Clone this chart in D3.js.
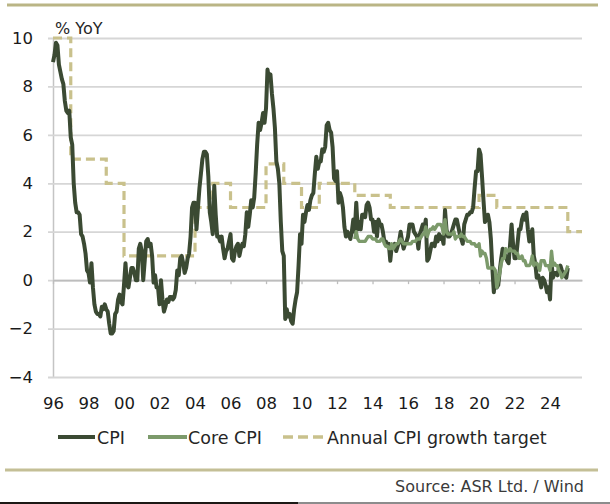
<!DOCTYPE html>
<html>
<head>
<meta charset="utf-8">
<script src="https://cdn.jsdelivr.net/npm/d3@7"></script>
<style>
  body { margin: 0; background: #fff; }
  svg { display: block; font-family: "DejaVu Sans", Verdana, sans-serif; }
</style>
</head>
<body>
<svg id="chart" width="610" height="504"></svg>
<script>
// monthly CPI % YoY, Jan 1996 .. Jan 2025
var cpi = [
  9.0, 9.3, 9.8, 9.7, 8.9, 8.6, 8.3, 8.1, 7.4, 7.0, 6.9, 7.0,
  5.9, 5.6, 4.0, 3.2, 2.8, 2.8, 2.7, 1.9, 1.8, 1.5, 1.1, 0.4,
  0.3, -0.1, 0.7, -0.3, -1.0, -1.3, -1.4, -1.4, -1.5, -1.1, -1.2, -1.0,
  -1.2, -1.3, -1.8, -2.2, -2.2, -2.1, -1.4, -1.3, -0.8, -0.6, -0.9, -1.0,
  -0.2, 0.7, -0.2, -0.3, 0.1, 0.5, 0.5, 0.3, 0.0, 0.0, 1.3, 1.5,
  1.2, 0.0, 0.8, 1.6, 1.7, 1.4, 1.5, 1.0, -0.1, 0.2, -0.3, -0.3,
  -1.0, 0.0, -0.8, -1.3, -1.1, -0.8, -0.9, -0.7, -0.7, -0.8, -0.7, -0.4,
  0.4, 0.2, 0.9, 1.0, 0.7, 0.3, 0.5, 0.9, 1.1, 1.8, 3.0, 3.2,
  3.2, 2.1, 3.0, 3.8, 4.4, 5.0, 5.3, 5.3, 5.2, 4.3, 2.8, 2.4,
  1.9, 3.9, 2.7, 1.8, 1.8, 1.6, 1.8, 1.3, 0.9, 1.2, 1.3, 1.6,
  1.9, 0.9, 0.8, 1.2, 1.4, 1.5, 1.0, 1.3, 1.5, 1.4, 1.9, 2.8,
  2.2, 2.7, 3.3, 3.0, 3.4, 4.4, 5.6, 6.5, 6.2, 6.5, 6.9, 6.5,
  7.1, 8.7, 8.3, 8.5, 7.7, 7.1, 6.3, 4.9, 4.6, 4.0, 2.4, 1.2,
  1.0, -1.6, -1.2, -1.5, -1.4, -1.7, -1.8, -1.2, -0.8, -0.5, 0.6, 1.9,
  1.5, 2.7, 2.4, 2.8, 3.1, 2.9, 3.3, 3.5, 3.6, 4.4, 5.1, 4.6,
  4.9, 4.9, 5.4, 5.3, 5.5, 6.4, 6.5, 6.2, 6.1, 5.5, 4.2, 4.1,
  4.5, 3.2, 3.6, 3.4, 3.0, 2.2, 1.8, 2.0, 1.9, 1.7, 2.0, 2.5,
  2.0, 3.2, 2.1, 2.4, 2.1, 2.7, 2.7, 2.6, 3.1, 3.2, 3.0, 2.5,
  2.5, 2.0, 2.4, 1.8, 2.5, 2.3, 2.3, 2.0, 1.6, 1.6, 1.4, 1.5,
  0.8, 1.4, 1.4, 1.5, 1.2, 1.4, 1.6, 2.0, 1.6, 1.3, 1.5, 1.6,
  1.8, 2.3, 2.3, 2.3, 2.0, 1.9, 1.8, 1.3, 1.9, 2.1, 2.3, 2.1,
  2.5, 0.8, 0.9, 1.2, 1.5, 1.5, 1.4, 1.8, 1.6, 1.9, 1.7, 1.8,
  1.5, 2.9, 2.1, 1.8, 1.8, 1.9, 2.1, 2.3, 2.5, 2.5, 2.2, 1.9,
  1.7, 1.5, 2.3, 2.5, 2.7, 2.7, 2.8, 2.8, 3.0, 3.8, 4.5, 4.5,
  5.4, 5.2, 4.3, 3.3, 2.4, 2.5, 2.7, 2.4, 1.7, 0.5, -0.5, 0.2,
  -0.3, -0.2, 0.4, 0.9, 1.3, 1.1, 1.0, 0.8, 0.7, 1.5, 2.3, 1.5,
  0.9, 0.9, 1.5, 2.1, 2.1, 2.5, 2.7, 2.5, 2.8, 2.1, 1.6, 1.8,
  2.1, 1.0, 0.7, 0.1, 0.2, 0.0, -0.3, 0.1, 0.0, -0.2, -0.5, -0.3,
  -0.8, 0.7, 0.1, 0.3, 0.3, 0.2, 0.5, 0.6, 0.4, 0.3, 0.2, 0.1,
  0.5
]

// monthly core CPI % YoY, Jan 2013 .. Jan 2025
var coreStart = 2013
var coreCpi = [
  1.7, 2.0, 1.7, 1.6, 1.6, 1.6, 1.6, 1.6, 1.7, 1.8, 1.8, 1.8,
  1.7, 1.7, 1.7, 1.6, 1.6, 1.6, 1.7, 1.7, 1.5, 1.4, 1.4, 1.3,
  1.3, 1.5, 1.3, 1.4, 1.5, 1.5, 1.6, 1.7, 1.6, 1.5, 1.5, 1.5,
  1.5, 1.5, 1.5, 1.6, 1.6, 1.6, 1.7, 1.7, 1.7, 1.8, 1.9, 1.9,
  2.2, 1.8, 2.0, 2.1, 2.1, 2.2, 2.1, 2.2, 2.3, 2.3, 2.3, 2.2,
  1.9, 2.5, 2.0, 1.9, 1.9, 1.9, 1.9, 2.0, 1.7, 1.8, 1.8, 1.8,
  1.9, 1.8, 1.8, 1.7, 1.6, 1.6, 1.6, 1.5, 1.5, 1.5, 1.4, 1.4,
  1.5, 1.0, 1.2, 1.1, 1.1, 0.9, 0.5, 0.5, 0.5, 0.5, 0.5, 0.4,
  -0.3, 0.0, 0.3, 0.7, 0.9, 0.9, 1.3, 1.2, 1.2, 1.3, 1.2, 1.2,
  1.2, 1.1, 1.1, 0.9, 0.9, 1.0, 0.8, 0.8, 0.6, 0.6, 0.6, 0.7,
  1.0, 0.6, 0.7, 0.7, 0.6, 0.4, 0.8, 0.8, 0.8, 0.6, 0.6, 0.6,
  0.4, 1.2, 0.6, 0.7, 0.6, 0.6, 0.4, 0.3, 0.1, 0.2, 0.3, 0.4,
  0.6
]

// annual CPI growth target, 1996 .. 2025
var targetStart = 1996
var target = [10, 5, 5, 4, 1, 1, 1, 1, 3, 4, 3, 3, 4.8, 4, 3, 4, 4, 3.5, 3.5, 3, 3, 3, 3, 3, 3.5, 3, 3, 3, 3, 2]

var tickYears = d3.range(1996, 2025, 2)
var tickLabels = ["96", "98", "00", "02", "04", "06", "08", "10", "12", "14", "16", "18", "20", "22", "24"]
var yTicks = [-4, -2, 0, 2, 4, 6, 8, 10]
var seriesNames = ["CPI", "Core CPI", "Annual CPI growth target"]

var colors = { cpi: "#3b4a33", core: "#7c9a6b", target: "#c9c18c" }

var plot = { left: 53, right: 582, top: 38, bottom: 377 }

var x = d3.scaleLinear().domain([1996, 2025.8]).range([plot.left, plot.right])
var y = d3.scaleLinear().domain([-4, 10]).range([plot.bottom, plot.top])

var svg = d3.select("#chart")

svg.append("rect").attr("width", 610).attr("height", 504).attr("fill", "#fff")

// rules top and bottom
svg.append("line").attr("x1", 7).attr("x2", 598).attr("y1", 5).attr("y2", 5)
    .attr("stroke", "#bab585").attr("stroke-width", 3)
svg.append("line").attr("x1", 5).attr("x2", 598).attr("y1", 470).attr("y2", 470)
    .attr("stroke", "#c4bf96").attr("stroke-width", 3)

// y axis + gridlines
var yAxis = svg.append("g")
    .attr("transform", "translate(" + plot.left + ",0)")
    .call(d3.axisLeft(y).tickValues(yTicks).tickSize(-(plot.right - plot.left)).tickSizeOuter(0).tickPadding(20))
yAxis.select(".domain").attr("stroke", "#c4c4c4").attr("stroke-width", 1.5)
yAxis.selectAll(".tick line")
    .attr("x1", -5)
    .attr("stroke", "#d6d6d6").attr("stroke-width", 1.8)
yAxis.selectAll(".tick text")
    .attr("font-size", 16.5).attr("font-family", "DejaVu Sans, sans-serif").attr("fill", "#1a1a1a")

svg.append("text")
    .attr("x", 55).attr("y", 34)
    .attr("font-size", 16).attr("fill", "#262626")
    .text("% YoY")

// small ticks sitting on the zero line
var zeroAxis = svg.append("g")
    .attr("transform", "translate(0," + y(0) + ")")
    .call(d3.axisBottom(x).tickValues(tickYears).tickSize(4).tickSizeOuter(0).tickFormat(""))
zeroAxis.select(".domain").attr("stroke", "#bdbdbd").attr("stroke-width", 1.8)
zeroAxis.selectAll(".tick line").attr("stroke", "#bdbdbd").attr("stroke-width", 1.3)

// year labels
var xAxis = svg.append("g")
    .attr("transform", "translate(0," + plot.bottom + ")")
    .call(d3.axisBottom(x).tickValues(tickYears).tickSize(0).tickPadding(20)
        .tickFormat((d, i) => tickLabels[i]))
xAxis.select(".domain").remove()
xAxis.selectAll(".tick text")
    .attr("font-size", 16.5).attr("font-family", "DejaVu Sans, sans-serif").attr("fill", "#1a1a1a")

// target (step) line
var targetPts = target.map((v, i) => [targetStart + i, v])
targetPts.push([x.domain()[1], target[target.length - 1]])

svg.append("path")
    .datum(targetPts)
    .attr("fill", "none")
    .attr("stroke", colors.target)
    .attr("stroke-width", 3.2)
    .attr("stroke-dasharray", "9,5")
    .attr("d", d3.line().x(d => x(d[0])).y(d => y(d[1])).curve(d3.curveStepAfter))

// CPI
svg.append("path")
    .datum(cpi)
    .attr("fill", "none")
    .attr("stroke", colors.cpi)
    .attr("stroke-width", 4)
    .attr("stroke-linejoin", "round")
    .attr("d", d3.line().x((d, i) => x(1996 + i / 12)).y(d => y(d)))

// core CPI
svg.append("path")
    .datum(coreCpi)
    .attr("fill", "none")
    .attr("stroke", colors.core)
    .attr("stroke-width", 3.4)
    .attr("stroke-linejoin", "round")
    .attr("d", d3.line().x((d, i) => x(coreStart + i / 12)).y(d => y(d)))

// Legend
var legend = svg.append("g").attr("font-size", 17.5).attr("fill", "#262626")
legend.append("line").attr("x1", 58).attr("x2", 95).attr("y1", 437).attr("y2", 437)
    .attr("stroke", colors.cpi).attr("stroke-width", 4)
legend.append("text").attr("x", 97).attr("y", 443.5).text(seriesNames[0])
legend.append("line").attr("x1", 148).attr("x2", 187).attr("y1", 437).attr("y2", 437)
    .attr("stroke", colors.core).attr("stroke-width", 4)
legend.append("text").attr("x", 188).attr("y", 443.5).text(seriesNames[1])
legend.append("line").attr("x1", 283).attr("x2", 326).attr("y1", 437).attr("y2", 437)
    .attr("stroke", colors.target).attr("stroke-width", 3.5).attr("stroke-dasharray", "10,5")
legend.append("text").attr("x", 327).attr("y", 443.5).text(seriesNames[2])

svg.append("text")
    .attr("x", 584).attr("y", 492)
    .attr("text-anchor", "end")
    .attr("font-size", 16).attr("fill", "#3a3a3a")
    .text("Source: ASR Ltd. / Wind")

// photo edge at the very bottom
svg.append("rect").attr("x", 0).attr("y", 502).attr("width", 298).attr("height", 2).attr("fill", "#1c1915")
svg.append("rect").attr("x", 298).attr("y", 502).attr("width", 312).attr("height", 2).attr("fill", "#8c8c8c")
</script>
</body>
</html>
